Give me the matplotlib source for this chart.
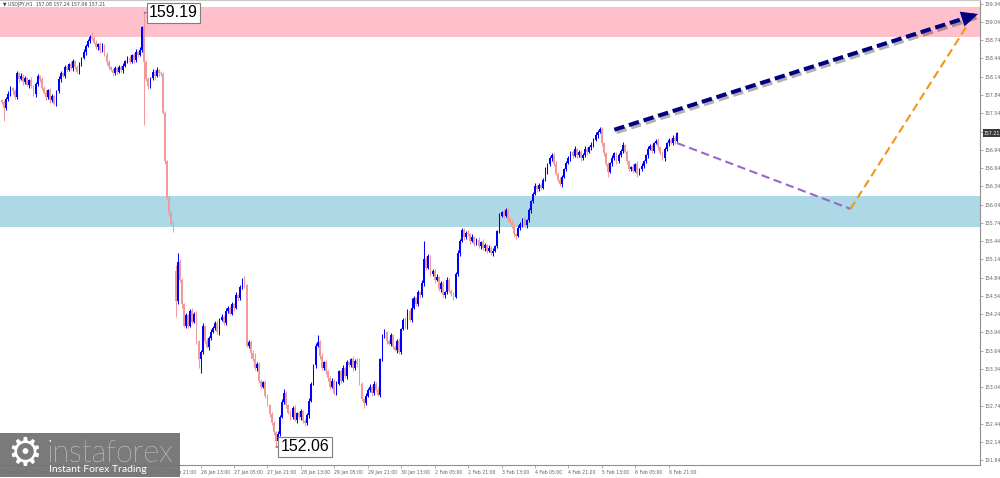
import numpy as np
import matplotlib.pyplot as plt
import matplotlib.patheffects as pe
import matplotlib.transforms as mtrans
from matplotlib.patches import FancyBboxPatch

# USDJPY H1 closes left to right
closes = [
    157.72, 157.62, 157.78, 157.85, 157.95, 157.90, 157.80, 158.20,
    158.10, 158.15, 158.05, 158.12, 158.00, 158.08, 157.98, 157.85,
    158.02, 158.15, 158.10,
    157.95, 157.88, 157.80, 157.92, 157.75, 157.82, 157.70,
    157.90, 158.10, 158.20, 158.15, 158.30, 158.25, 158.35, 158.28,
    158.40, 158.30, 158.22, 158.35, 158.45,
    158.55, 158.65, 158.72, 158.80, 158.78,
    158.70, 158.62, 158.68, 158.58, 158.65,
    158.50, 158.38, 158.30, 158.25, 158.20,
    158.28, 158.22, 158.30, 158.25, 158.32,
    158.40, 158.45, 158.38, 158.50, 158.42, 158.55, 158.50, 158.58,
    158.95, 158.38,
    158.10, 157.98, 158.12,
    158.22, 158.15, 158.25, 158.20, 158.18,
    157.55, 156.75, 156.15, 155.90, 155.72, 155.62,
    # after the gap
    154.45, 155.10,
    154.80, 154.40, 154.05,
    154.22, 154.05, 154.30, 154.12, 154.25,
    153.80, 153.50, 153.62, 154.05,
    153.80, 153.70, 153.85, 153.95, 154.02, 154.10, 153.95, 154.15,
    154.20, 154.10, 154.30, 154.35, 154.25,
    154.40, 154.35, 154.55, 154.50, 154.68, 154.80, 154.72,
    153.72, 153.78, 153.60, 153.50, 153.35, 153.42, 153.15,
    153.05, 153.12, 152.90, 152.75, 152.60,
    152.45, 152.30, 152.15, 152.28,
    152.55, 152.80, 152.95,
    152.75, 152.62, 152.55, 152.70, 152.50, 152.62, 152.55, 152.65,
    152.48, 152.45,
    152.58, 152.82, 153.10, 153.40, 153.72, 153.78,
    153.55, 153.35, 153.45, 153.30, 153.20, 153.05, 153.15, 152.95, 153.10,
    153.30, 153.15, 153.35, 153.22, 153.45, 153.40, 153.50, 153.35,
    153.48, 153.42,
    153.10, 152.85, 152.78, 152.90, 153.00, 153.05, 152.95, 153.10,
    153.00, 152.92,
    153.50, 153.88, 153.95, 153.80, 153.75, 153.90, 153.70, 153.65, 153.80,
    153.62, 154.00, 154.15, 154.05, 154.30, 154.15, 154.35, 154.50,
    154.40, 154.60, 154.55, 154.75,
    155.15, 155.00, 155.20, 154.90, 154.95, 154.80,
    154.85, 154.65, 154.75, 154.55, 154.60, 154.80, 154.62, 154.58, 154.52,
    154.90, 155.25, 155.45, 155.62, 155.50, 155.58,
    155.55, 155.45, 155.50, 155.40, 155.46, 155.36, 155.42, 155.32,
    155.38, 155.28, 155.33, 155.24, 155.28, 155.36,
    155.60, 155.85, 155.92, 155.86, 155.95, 155.80,
    155.75, 155.68, 155.55, 155.52, 155.66, 155.72, 155.80, 155.70, 155.78,
    155.95, 156.10, 156.22, 156.35, 156.30, 156.36, 156.32,
    156.45, 156.60, 156.70, 156.80, 156.86, 156.70, 156.55, 156.45, 156.38,
    156.50, 156.62, 156.72, 156.80, 156.90, 156.84, 156.95, 156.86,
    156.90, 156.80, 156.86, 156.95, 156.90,
    156.98, 157.02, 157.10, 157.18, 157.24, 157.28,
    157.05, 156.88, 156.70, 156.58, 156.72,
    156.80, 156.88, 156.75, 156.85, 156.92, 157.02,
    156.90, 156.75, 156.62, 156.66, 156.60, 156.70, 156.55, 156.62, 156.68,
    156.75, 156.85, 156.95, 157.00, 156.92, 157.05, 157.08, 156.98,
    156.88, 156.80,
    156.95, 157.05, 157.10, 157.05, 157.14, 157.08, 157.21,
]
first_open = 157.75
gap_open = {83: 154.95}   # weekend gap bar

# wick lengths in pips (upper / lower), 18 bars per row
up_wick = [
    3, 4, 2, 5, 3, 2, 4, 3, 2, 5, 3, 4, 2, 3, 5, 2, 4, 3,
    2, 4, 3, 5, 2, 3, 4, 2, 3, 5, 4, 2, 3, 4, 2, 5, 3, 2,
    4, 3, 2, 5, 3, 4, 2, 7, 3, 4, 2, 3, 5, 2, 4, 3, 2, 4,
    3, 2, 4, 3, 5, 2, 3, 4, 2, 3, 5, 2, 4, 3, 24, 4, 3, 2,
    4, 3, 5, 2, 3, 4, 3, 2, 4, 3, 5, 10, 15, 4, 3, 2, 4, 3,
    2, 4, 3, 5, 2, 3, 4, 2, 5, 3, 4, 2, 3, 5, 2, 4, 3, 4,
    3, 2, 4, 3, 5, 2, 4, 3, 6, 2, 4, 3, 5, 10, 3, 4, 2, 3,
    4, 3, 2, 4, 3, 2, 4, 3, 5, 7, 3, 2, 4, 3, 5, 2, 3, 4,
    2, 4, 3, 5, 2, 3, 4, 12, 3, 5, 2, 4, 3, 2, 5, 3, 4, 2,
    3, 5, 2, 4, 3, 2, 5, 3, 4, 10, 3, 2, 4, 3, 5, 2, 4, 3,
    4, 2, 3, 5, 2, 4, 3, 2, 4, 3, 5, 2, 3, 4, 2, 3, 15, 4,
    3, 4, 2, 5, 30, 4, 3, 2, 4, 3, 5, 2, 4, 3, 2, 5, 3, 4,
    2, 3, 5, 2, 4, 3, 2, 4, 3, 5, 2, 3, 4, 2, 5, 3, 2, 4,
    3, 4, 2, 3, 5, 2, 4, 3, 2, 4, 3, 5, 2, 4, 3, 2, 5, 3,
    4, 2, 3, 5, 2, 4, 3, 2, 5, 3, 4, 2, 3, 5, 2, 4, 3, 2,
    3, 4, 2, 3, 5, 2, 3, 4, 2, 5, 3, 2, 4, 3, 5, 2, 4, 3,
    2, 3, 4, 2, 5, 3, 2, 4, 3, 5, 2, 4, 3, 2, 4, 3, 5, 2,
    4, 3, 2, 5, 3, 4, 2, 3, 5, 2, 4, 3, 2, 4, 3, 5, 2, 3,
]
dn_wick = [
    3, 20, 2, 4, 3, 5, 2, 3, 4, 2, 5, 3, 2, 4, 3, 2, 5, 3,
    4, 2, 3, 5, 2, 4, 3, 2, 4, 3, 5, 2, 3, 4, 2, 3, 5, 4,
    2, 3, 4, 2, 5, 3, 2, 4, 3, 2, 4, 5, 3, 2, 4, 3, 2, 5,
    3, 4, 2, 3, 5, 2, 4, 3, 2, 5, 3, 4, 2, 3, 103, 3, 4, 2,
    3, 5, 2, 4, 3, 2, 5, 3, 4, 2, 3, 25, 4, 3, 5, 2, 4, 3,
    2, 4, 3, 5, 14, 23, 3, 4, 2, 5, 3, 2, 4, 3, 5, 2, 3, 4,
    4, 3, 2, 5, 3, 4, 2, 3, 5, 2, 4, 8, 3, 2, 5, 4, 3, 2,
    3, 2, 4, 3, 5, 9, 3, 4, 2, 3, 5, 2, 4, 3, 2, 5, 3, 4,
    2, 5, 3, 4, 2, 3, 5, 2, 4, 3, 2, 4, 5, 3, 2, 4, 3, 2,
    4, 3, 2, 5, 3, 2, 4, 3, 5, 2, 4, 8, 3, 2, 4, 5, 3, 2,
    3, 4, 2, 3, 5, 2, 4, 3, 2, 5, 3, 4, 2, 3, 5, 2, 4, 3,
    2, 3, 5, 2, 4, 3, 2, 4, 3, 5, 2, 3, 4, 2, 5, 3, 2, 4,
    4, 2, 3, 5, 2, 4, 3, 2, 5, 3, 4, 2, 3, 5, 2, 4, 3, 2,
    3, 5, 2, 4, 3, 2, 4, 3, 5, 2, 3, 5, 4, 2, 3, 5, 2, 4,
    2, 4, 3, 2, 5, 3, 4, 2, 3, 5, 2, 4, 3, 2, 4, 3, 5, 2,
    3, 2, 4, 3, 2, 5, 3, 4, 2, 3, 5, 2, 4, 3, 2, 4, 3, 5,
    4, 3, 8, 2, 4, 3, 5, 2, 3, 4, 2, 5, 3, 2, 4, 3, 6, 3,
    2, 4, 3, 5, 2, 3, 4, 2, 5, 3, 2, 4, 3, 5, 2, 3, 4, 2,
]

time_labels = ["22 Jan 2025", "23 Jan 05:00", "23 Jan 21:00", "24 Jan 13:00",
               "25 Jan 05:00", "25 Jan 21:00", "26 Jan 13:00", "27 Jan 05:00",
               "27 Jan 21:00", "28 Jan 13:00", "29 Jan 05:00", "29 Jan 21:00",
               "30 Jan 13:00", "2 Feb 05:00", "2 Feb 21:00", "3 Feb 13:00",
               "4 Feb 05:00", "4 Feb 21:00", "5 Feb 13:00", "6 Feb 05:00",
               "6 Feb 21:00"]
price_ticks = [151.84, 152.14, 152.44, 152.74, 153.04, 153.34, 153.64, 153.94,
               154.24, 154.54, 154.84, 155.14, 155.44, 155.74, 156.04, 156.34,
               156.64, 156.94, 157.24, 157.54, 157.84, 158.14, 158.44, 158.74,
               159.04, 159.34]

sell_zone = (158.80, 159.29)
buy_zone = (155.67, 156.18)

# forecast legs: (bars after the last candle, price)
main_leg = [(-30, 157.27), (144, 159.17)]
down_leg = [(0, 157.05), (83, 155.97)]
up_leg = [(83, 155.97), (139, 158.99)]

# ---- build candles
n = len(closes)
opens = [first_open] + closes[:-1]
for k, v in gap_open.items():
    opens[k] = v
o = np.array(opens)
c = np.array(closes)
hi = np.maximum(o, c) + np.array(up_wick) / 100.0
lo = np.minimum(o, c) - np.array(dn_wick) / 100.0
x = np.arange(n)
last = n - 1

fig = plt.figure(figsize=(10, 4.78), dpi=100)
fig.patch.set_facecolor('white')
ax = fig.add_axes([0, 13 / 478, 0.98, 465 / 478])

px = 2.09  # pixels per bar
right = last + (980 - 677) / px
ax.set_xlim(right - 980 / px, right)
ax.set_ylim(151.764, 159.40)

ax.axhspan(*sell_zone, color='pink', lw=0, zorder=1)
ax.axhspan(*buy_zone, color='lightblue', lw=0, zorder=1)

bull = '#0000ff'
bear = '#f29a9a'
cols = np.where(c >= o, bull, bear)
ax.vlines(x, lo, hi, colors=cols, lw=0.75, zorder=3)
body = np.where(np.abs(c - o) < 0.015, 0.015, c - o)
ax.bar(x, body, bottom=o, width=0.85, color=cols, lw=0, zorder=4)

# forecast arrows
def leg_xy(leg):
    return [last + b for b, p in leg], [p for b, p in leg]

mx, my = leg_xy(main_leg)
ax.plot(mx, my, color='#000080', lw=2.9, ls=(0, (2.6, 1.2)),
        dash_capstyle='butt', clip_on=False, zorder=6,
        path_effects=[pe.SimpleLineShadow(offset=(1.5, -1.8), shadow_color='k', alpha=0.3),
                      pe.Normal()])
ax.annotate('', xy=(mx[1], my[1]),
            xytext=(mx[0] + 0.95 * (mx[1] - mx[0]), my[0] + 0.95 * (my[1] - my[0])),
            arrowprops=dict(arrowstyle='-|>,head_length=0.6,head_width=0.28',
                            color='#000080', mutation_scale=20, lw=0,
                            shrinkA=0, shrinkB=0),
            annotation_clip=False, zorder=7)

dx, dy = leg_xy(down_leg)
ax.plot(dx, dy, color='#9966cc', lw=1.5, ls=(0, (4, 2.2)), zorder=6)
ux, uy = leg_xy(up_leg)
ax.plot(ux, uy, color='#f39516', lw=1.5, ls=(0, (4, 2.2)), zorder=6)

# extreme labels
box = dict(boxstyle='square,pad=0.15', fc='white', ec='#7f7f7f', lw=0.8)
imax = int(np.argmax(hi))
imin = int(np.argmin(lo))
for i, val in [(imax, hi[imax]), (imin, lo[imin])]:
    ax.annotate(f'{val:.2f}', xy=(i, val), xytext=(3.5, 0), textcoords='offset points',
                ha='left', va='center', fontsize=11.5, family='Liberation Sans',
                bbox=box, zorder=8,
                arrowprops=dict(arrowstyle='-', color='#555555', lw=0.8,
                                shrinkA=0, shrinkB=0))

# axes look
ax.spines['left'].set_visible(False)
ax.spines['top'].set_color('#c8c8c8')
ax.spines['right'].set_color('#909090')
ax.spines['bottom'].set_color('#909090')
for s in ['top', 'right', 'bottom']:
    ax.spines[s].set_linewidth(0.8)

ax.yaxis.tick_right()
ax.set_yticks(price_ticks)
ax.set_yticklabels([f'{v:.2f}' for v in price_ticks])
ax.tick_params(axis='y', labelsize=3.3, labelcolor='#606060', length=2,
               width=0.5, color='#909090', pad=1)

tick_bars = [last - 4 - 16 * k for k in range(len(time_labels))][::-1]
ax.set_xticks(tick_bars)
ax.set_xticklabels(time_labels, ha='left')
ax.tick_params(axis='x', labelsize=3.3, labelcolor='#606060', length=2.5,
               width=0.5, color='#909090', pad=1)

# current price tag on the scale
tr = mtrans.blended_transform_factory(ax.transAxes, ax.transData)
ax.text(1.004, c[-1], f'{c[-1]:.2f}', transform=tr, fontsize=3.3, color='white',
        va='center', ha='left', clip_on=False, zorder=9,
        bbox=dict(boxstyle='square,pad=0.3', fc='#3a3a3a', ec='none'))

# header line
ax.text(0.003, 1 - 4.5 / 465, f'\u25bc USDJPY,H1  {o[-1]:.2f} {hi[-1]:.2f} {lo[-1]:.2f} {c[-1]:.2f}',
        transform=ax.transAxes, fontsize=3.3, color='#404040', va='center', ha='left',
        zorder=9)

# watermark
fig.patches.append(FancyBboxPatch((0, 1 / 478), 180 / 1000, 44 / 478,
                                  boxstyle='square,pad=0', transform=fig.transFigure,
                                  fc='#707070', ec='none', alpha=0.93, zorder=5))
fig.text(25 / 1000, (478 - 454) / 478, '\u2699', color='white', fontsize=28,
         ha='center', va='center', zorder=6)
fig.text(47 / 1000, (478 - 462) / 478, 'instaforex', color='white', fontsize=22,
         family='Lato', fontweight='light', va='baseline', zorder=6)
fig.text(49 / 1000, (478 - 472) / 478, 'Instant Forex Trading', color='white',
         fontsize=7.5, family='Lato', va='baseline', zorder=6)

fig.savefig('out.png', dpi=100)
